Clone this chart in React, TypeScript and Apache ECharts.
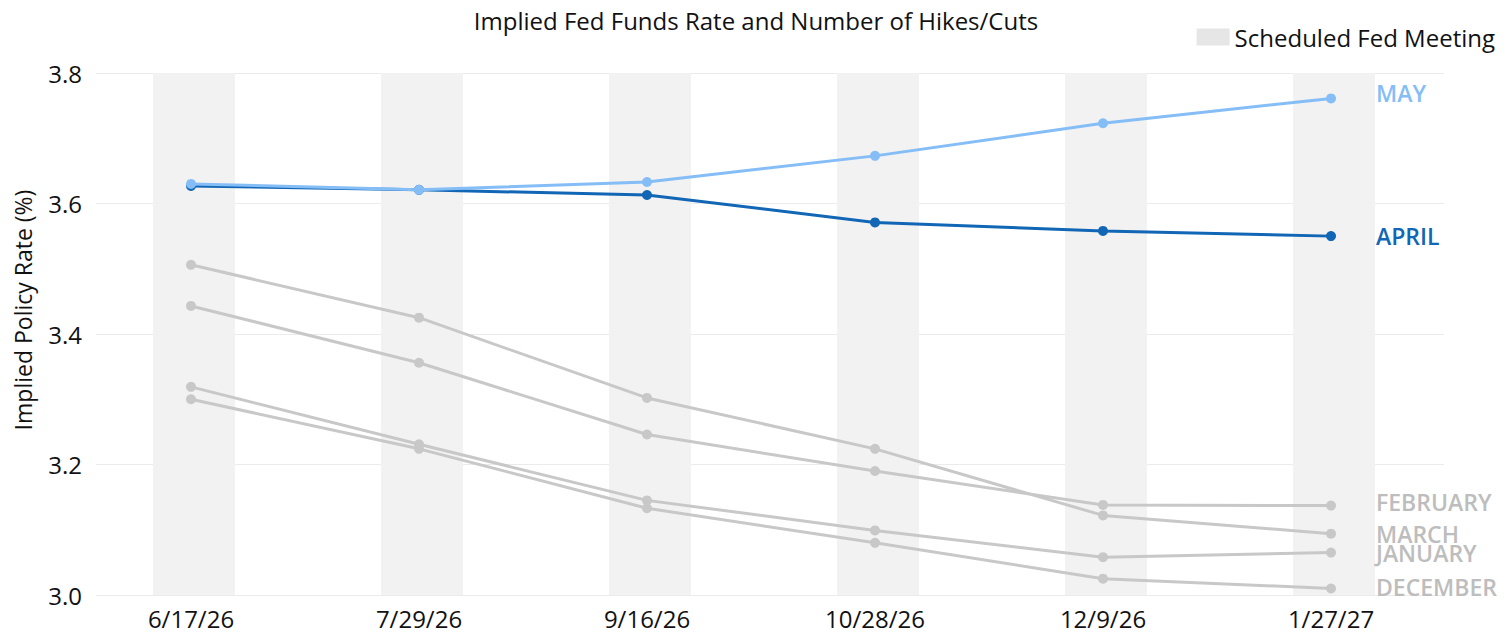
import React, { useEffect, useRef } from "react";
import * as echarts from "echarts";

const categories = ["6/17/26", "7/29/26", "9/16/26", "10/28/26", "12/9/26", "1/27/27"];
const meetingBand = [3.8, 3.8, 3.8, 3.8, 3.8, 3.8];
const may = [3.630, 3.621, 3.633, 3.673, 3.723, 3.761];
const april = [3.627, 3.621, 3.613, 3.571, 3.558, 3.550];
const march = [3.506, 3.425, 3.302, 3.224, 3.122, 3.094];
const february = [3.443, 3.356, 3.246, 3.190, 3.138, 3.137];
const january = [3.319, 3.231, 3.145, 3.099, 3.058, 3.065];
const december = [3.300, 3.224, 3.133, 3.080, 3.025, 3.010];
const yTicks = [3.0, 3.2, 3.4, 3.6, 3.8];

const FONT = "Open Sans";

export default function App() {
  const ref = useRef<HTMLDivElement>(null);
  useEffect(() => {
    document.body.style.margin = "0";
    const chart = echarts.init(ref.current!, null, { renderer: "svg" });
    const lineSeries = (name: string, data: number[], color: string, labelColor: string, dy: number, z: number) => ({
      type: "line",
      name,
      data,
      xAxisIndex: 1,
      yAxisIndex: 1,
      symbol: "circle",
      symbolSize: 10,
      z,
      lineStyle: { color, width: 3 },
      itemStyle: { color },
      endLabel: {
        show: true,
        formatter: name,
        color: labelColor,
        fontFamily: FONT,
        fontSize: 23,
        fontWeight: 600,
        distance: 45,
        offset: [0, dy],
      },
    });
    const yMin = yTicks[0];
    const yMax = yTicks[yTicks.length - 1];
    chart.setOption({
      animation: false,
      textStyle: { fontFamily: FONT },
      title: {
        text: "Implied Fed Funds Rate and Number of Hikes/Cuts",
        left: "center",
        top: 3,
        textStyle: { fontFamily: FONT, fontSize: 24, fontWeight: "normal", color: "#111" },
      },
      legend: {
        right: 12,
        top: 20,
        itemWidth: 33,
        itemHeight: 17,
        icon: "rect",
        itemGap: 10,
        textStyle: { fontFamily: FONT, fontSize: 24, color: "#111" },
        data: [{ name: "Scheduled Fed Meeting", itemStyle: { color: "#e6e6e6" } }],
      },
      graphic: [
        {
          type: "text",
          x: 23,
          y: 310,
          rotation: Math.PI / 2,
          style: {
            text: "Implied Policy Rate (%)",
            fontFamily: FONT,
            fontSize: 23,
            fill: "#111",
            align: "center",
            verticalAlign: "middle",
          },
        },
      ],
      grid: [
        { left: 96, right: 68, top: 73, bottom: 38 },
        { left: 77, right: 67, top: 73, bottom: 38 },
        { left: 80, right: 64, top: 73, bottom: 38 },
      ],
      xAxis: [
        { type: "category", gridIndex: 0, data: categories, show: false },
        {
          type: "category",
          gridIndex: 1,
          data: categories,
          axisLine: { show: false },
          axisTick: { show: false },
          axisLabel: { fontFamily: FONT, fontSize: 24, color: "#111", margin: 11 },
        },
        { type: "category", gridIndex: 2, data: categories, show: false },
      ],
      yAxis: [
        {
          type: "value",
          gridIndex: 0,
          min: yMin,
          max: yMax,
          interval: 0.2,
          axisLine: { show: false },
          axisTick: { show: false },
          axisLabel: { fontFamily: FONT, fontSize: 24, color: "#111", margin: 14, formatter: (v: number) => v.toFixed(1) },
          splitLine: { lineStyle: { color: "#ebebeb", width: 1 } },
        },
        { type: "value", gridIndex: 1, min: yMin, max: yMax, interval: 0.2, show: false, splitLine: { show: false } },
        { type: "value", gridIndex: 2, min: yMin, max: yMax, interval: 0.2, show: false, splitLine: { show: false } },
      ],
      series: [
        {
          type: "bar",
          name: "Scheduled Fed Meeting",
          data: meetingBand,
          xAxisIndex: 2,
          yAxisIndex: 2,
          barWidth: 82,
          itemStyle: { color: "#f2f2f2" },
          z: 1,
          silent: true,
        },
        lineSeries("DECEMBER", december, "#c8c8c8", "#bdbdbd", -1, 2),
        lineSeries("JANUARY", january, "#c8c8c8", "#bdbdbd", 0, 2),
        lineSeries("FEBRUARY", february, "#c8c8c8", "#bdbdbd", -4, 2),
        lineSeries("MARCH", march, "#c8c8c8", "#bdbdbd", 0, 2),
        lineSeries("APRIL", april, "#1166b5", "#1166b5", 0, 3),
        lineSeries("MAY", may, "#85bdf7", "#85bdf7", -5, 4),
      ],
    });
    return () => chart.dispose();
  }, []);
  return <div ref={ref} style={{ width: 1512, height: 633 }} />;
}
